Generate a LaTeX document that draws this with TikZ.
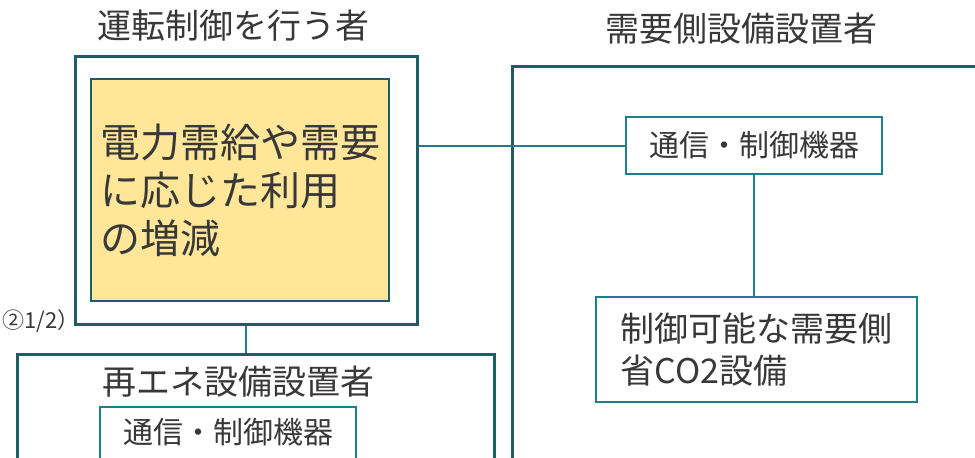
\documentclass[tikz,border=0pt]{standalone}
\usepackage{fontspec}
\setmainfont{Noto Sans CJK JP}
\usetikzlibrary{positioning}
\definecolor{waku}{RGB}{30,92,102}
\definecolor{sen}{RGB}{30,127,140}
\definecolor{kiiro}{RGB}{255,230,153}
\definecolor{moji}{RGB}{56,56,56}

\begin{document}
\begin{tikzpicture}[x=1pt,y=-1pt,
  every node/.style={text=moji, inner sep=0pt},
  soto/.style={rectangle, draw=waku, line width=3pt},
  uchi/.style={rectangle, draw=sen, line width=2pt, fill=white}]
\clip (0,0) rectangle (975,458);
% 運転制御を行う者
\node[font=\fontsize{34}{40}\selectfont] (t_unten) at (233,26) {運転制御を行う者};
\node[soto, minimum width=342, minimum height=268] (unten) at (246,190) {};
\node[rectangle, draw=waku, line width=2.5pt, fill=kiiro, minimum width=298, minimum height=222,
  text width=280pt, align=left, font=\fontsize{40}{48}\selectfont] (zogen) at (240,190)
  {電力需給や需要\\に応じた利用\\の増減};
\node[anchor=west, font=\fontsize{22}{26}\selectfont] (bango) at (2,321) {②1/2）};

% 需要側設備設置者
\node[font=\fontsize{34}{40}\selectfont] (t_juyo) at (741,29) {需要側設備設置者};
\node[soto, anchor=north west, minimum width=520, minimum height=420] (juyo) at (511,65) {};
\node[uchi, minimum width=256, minimum height=57, font=\fontsize{30}{36}\selectfont] (tsushin1) at (754,145.5) {通信・制御機器};
\node[uchi, minimum width=321, minimum height=105, text width=272pt, align=left,
  font=\fontsize{34}{42}\selectfont] (kiki) at (756.5,349.5) {制御可能な需要側\\省CO2設備};

% 再エネ設備設置者
\node[soto, anchor=north, minimum width=477, minimum height=150] (saiene) at (255.5,353) {};
\node[font=\fontsize{34}{40}\selectfont] (t_saiene) at (238,382) {再エネ設備設置者};
\node[uchi, anchor=north, minimum width=256, text height=36pt, text depth=30pt,
  font=\fontsize{30}{36}\selectfont] (tsushin2) at (228,406) {通信・制御機器};

% 接続
\draw[sen, line width=2pt] (unten.east |- tsushin1.west) -- (tsushin1.west);
\draw[sen, line width=2pt] (tsushin1.south) -- (tsushin1.south |- kiki.north);
\draw[sen, line width=2pt] (unten.south) -- (unten.south |- saiene.north);
\end{tikzpicture}
\end{document}
